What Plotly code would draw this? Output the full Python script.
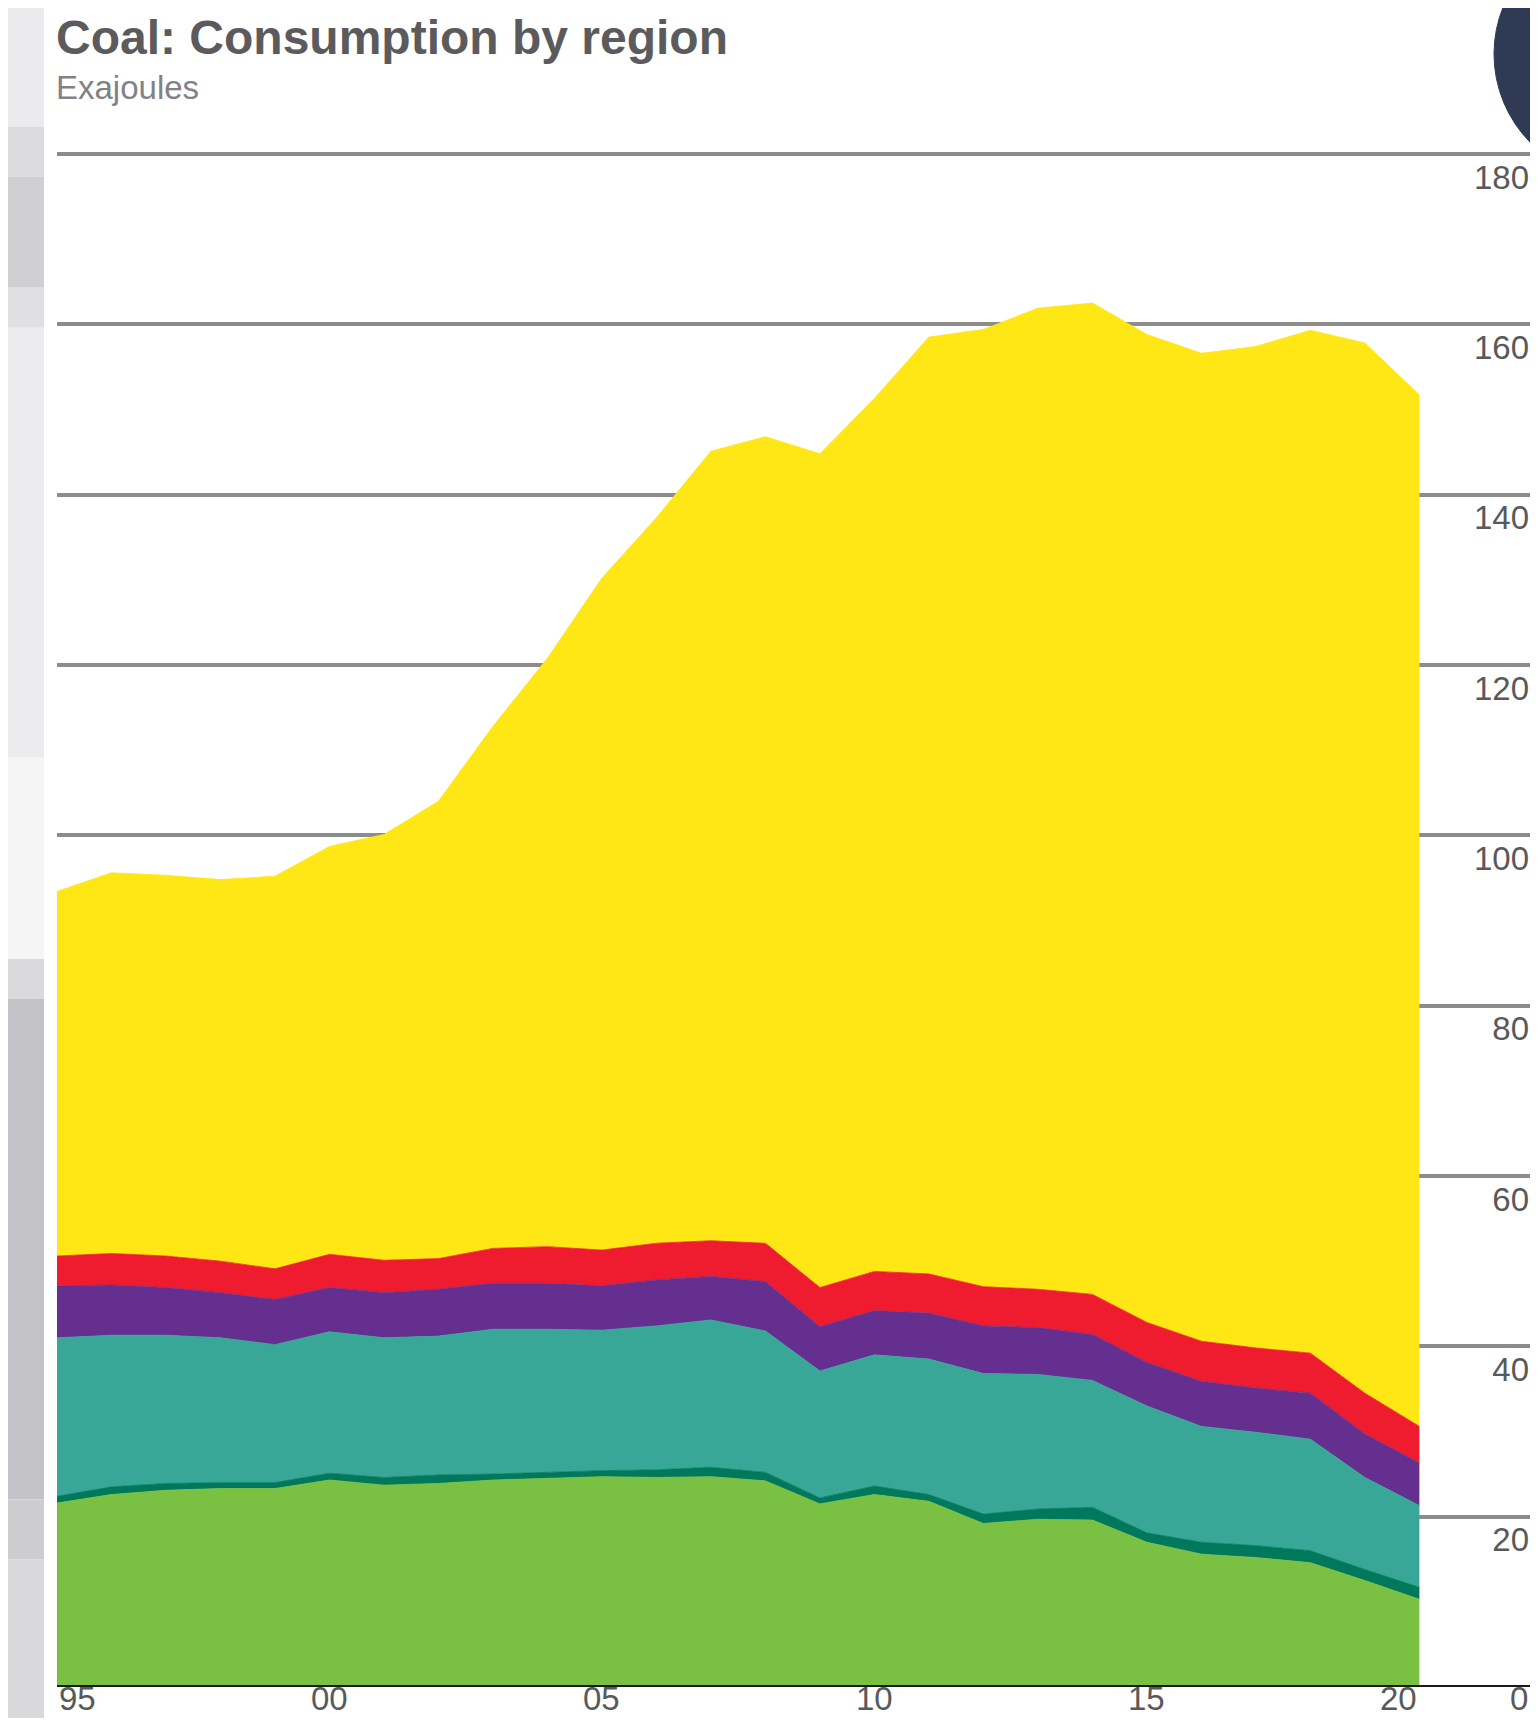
import plotly.graph_objects as go

# Coal consumption by region, exajoules
years = list(range(1995, 2021))
north_america = [21.6, 22.6, 23.1, 23.3, 23.3, 24.3, 23.7, 23.9, 24.3, 24.5, 24.7, 24.6, 24.7,
                 24.2, 21.5, 22.6, 21.8, 19.2, 19.7, 19.6, 17.0, 15.6, 15.2, 14.6, 12.5, 10.3]
sc_america = [0.8, 0.9, 0.8, 0.7, 0.7, 0.8, 0.9, 1.0, 0.7, 0.7, 0.7, 0.9, 1.1,
              1.0, 0.7, 1.0, 0.8, 1.1, 1.2, 1.5, 1.1, 1.4, 1.4, 1.4, 1.3, 1.4]
europe = [18.6, 17.8, 17.4, 17.0, 16.2, 16.6, 16.4, 16.3, 17.0, 16.8, 16.5, 16.9, 17.3,
          16.6, 14.9, 15.4, 15.9, 16.5, 15.8, 14.9, 14.9, 13.6, 13.3, 13.1, 10.8, 9.6]
cis = [6.1, 5.9, 5.6, 5.3, 5.3, 5.2, 5.3, 5.5, 5.4, 5.4, 5.2, 5.4, 5.1,
       5.8, 5.2, 5.2, 5.4, 5.6, 5.5, 5.4, 5.1, 5.3, 5.2, 5.4, 5.1, 5.0]
me_africa = [3.5, 3.7, 3.7, 3.7, 3.6, 3.9, 3.8, 3.6, 4.1, 4.3, 4.2, 4.3, 4.2,
             4.5, 4.6, 4.6, 4.6, 4.6, 4.5, 4.7, 4.7, 4.7, 4.7, 4.7, 4.8, 4.3]
asia_pacific = [42.8, 44.7, 44.7, 44.8, 46.1, 47.9, 50.0, 53.7, 61.3, 69.1, 78.9, 85.2, 92.7,
                94.7, 97.9, 102.5, 110.0, 112.4, 115.2, 116.4, 116.0, 116.0, 117.6, 120.1, 123.3, 121.1]

series = [
    ("North America", north_america, "#7ac143"),
    ("S. & Cent. America", sc_america, "#00785c"),
    ("Europe", europe, "#38a797"),
    ("CIS", cis, "#642f8f"),
    ("Middle East & Africa", me_africa, "#ee1c2e"),
    ("Asia Pacific", asia_pacific, "#ffe615"),
]

x_ticks = [1995, 2000, 2005, 2010, 2015, 2020]
x_labels = ["95", "00", "05", "10", "15", "20"]
y_ticks = [20, 40, 60, 80, 100, 120, 140, 160, 180]

fig = go.Figure()
for name, vals, col in series:
    fig.add_trace(go.Scatter(
        x=years, y=vals, name=name, stackgroup="one", mode="lines",
        line=dict(width=0.8, color=col), fillcolor=col, hoverinfo="x+y+name",
    ))

label_font = dict(family="Liberation Sans, Arial, sans-serif", size=33, color="#58595b")

# the page keeps an 8px body margin, so the figure is made to fit inside it
fig.update_layout(
    width=1522, height=1710,
    margin=dict(l=49, r=0, t=143, b=31),
    paper_bgcolor="white", plot_bgcolor="white",
    showlegend=False,
    font=label_font,
)
fig.update_xaxes(range=[1995, 2022.03], showgrid=False, zeroline=False,
                 showticklabels=False, ticks="", fixedrange=True)
fig.update_yaxes(range=[0, 180.35], side="right", tickvals=[0] + y_ticks,
                 ticktext=[""] + [str(v) for v in y_ticks],
                 ticklabelposition="inside bottom", ticklabeloverflow="allow",
                 ticklabelstandoff=-2,
                 showgrid=True, gridcolor="#8c8c8c", gridwidth=4,
                 zeroline=False, ticks="", tickfont=label_font)

# x-axis year labels (first one left-aligned, last one right-aligned like the original)
for i, (yr, lab) in enumerate(zip(x_ticks, x_labels)):
    anchor = "left" if i == 0 else ("right" if i == len(x_ticks) - 1 else "center")
    fig.add_annotation(x=yr, y=0, xref="x", yref="paper", text=lab, showarrow=False,
                       xanchor=anchor, yanchor="top", yshift=9, font=label_font)
# the y-axis "0" sits in the same row, at the right edge
fig.add_annotation(x=1, y=0, xref="paper", yref="paper", text="0", showarrow=False,
                   xanchor="right", yanchor="top", yshift=9, xshift=0, font=label_font)

# title and unit
fig.add_annotation(x=0, y=1, xref="paper", yref="paper", xanchor="left", yanchor="bottom",
                   yshift=85, xshift=-3, showarrow=False,
                   text="<b>Coal: Consumption by region</b>",
                   font=dict(family="Liberation Sans, Arial, sans-serif", size=48, color="#5b5b5e"))
fig.add_annotation(x=0, y=1, xref="paper", yref="paper", xanchor="left", yanchor="bottom",
                   yshift=43, xshift=-3, showarrow=False, text="Exajoules",
                   font=dict(family="Liberation Sans, Arial, sans-serif", size=33, color="#808285"))

# black baseline
fig.add_shape(type="line", xref="paper", yref="y", x0=0, x1=1, y0=0, y1=0,
              line=dict(color="#1a1a1a", width=4), layer="above")

# grey backdrop strip on the left edge
strip = [(1.10, 1.016, "#ebebed"), (1.016, 0.983, "#dcdcde"), (0.983, 0.911, "#d0d0d2"),
         (0.911, 0.885, "#e0e0e2"), (0.885, 0.605, "#ececee"), (0.605, 0.474, "#f5f5f6"),
         (0.474, 0.448, "#dadadc"), (0.448, 0.122, "#c2c2c7"), (0.122, 0.083, "#cdcdd0"),
         (0.083, -0.03, "#d9d9db")]
for y_top, y_bot, col in strip:
    fig.add_shape(type="rect", xref="paper", yref="paper", xsizemode="pixel", xanchor=0,
                  x0=-49, x1=-13, y0=y_bot, y1=y_top, fillcolor=col, line_width=0, layer="below")

# dark round logo corner at top right
fig.add_shape(type="circle", xref="paper", yref="paper", xsizemode="pixel", ysizemode="pixel",
              xanchor=1, yanchor=1, x0=-36, x1=216, y0=-29, y1=223,
              fillcolor="#2f3b55", line=dict(color="#2f3b55", width=1), layer="above")

fig.write_html("out.html")
